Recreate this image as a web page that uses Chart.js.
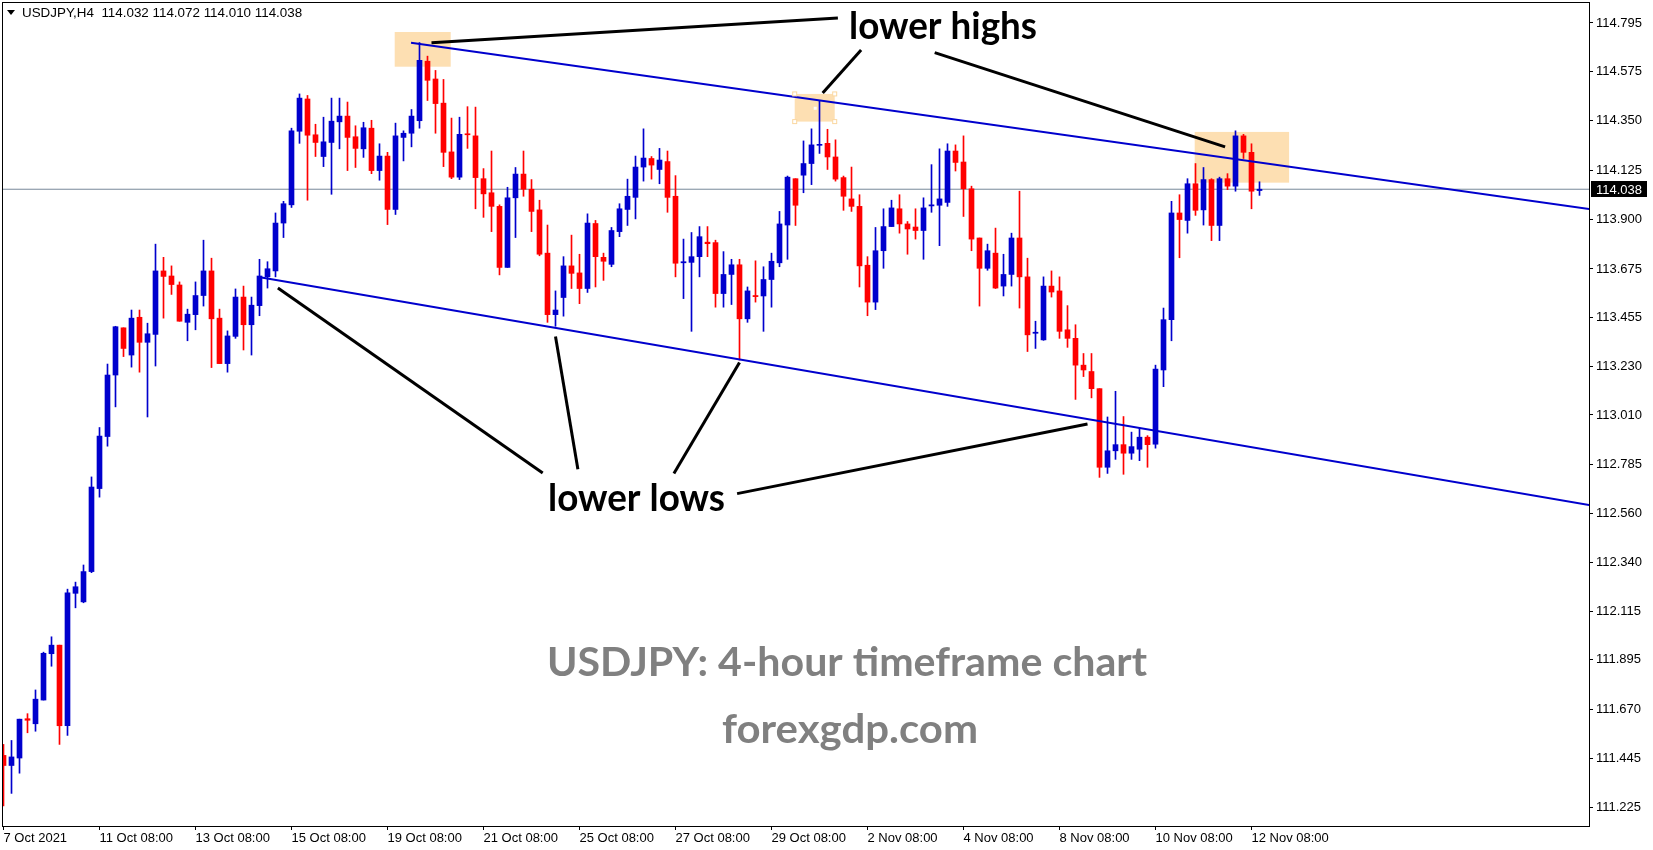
<!DOCTYPE html>
<html>
<head>
<meta charset="utf-8">
<script src="https://cdn.jsdelivr.net/npm/chart.js@4.4.1/dist/chart.umd.min.js"></script>
<style>
  html, body { margin: 0; padding: 0; background: #fff; }
  #wrap { width: 1653px; height: 850px; }
</style>
</head>
<body>
<div id="wrap"><canvas id="usdjpy" width="1653" height="850"></canvas></div>
<script>
// USDJPY H4 candles (bar 0 = first visible bar)
const opens = [111.460,111.414,111.448,111.627,111.604,111.712,111.923,111.962,111.595,112.198,
  112.159,112.297,112.675,112.912,113.192,113.407,113.283,113.455,113.341,113.377,
  113.666,113.643,113.602,113.432,113.467,113.554,113.666,113.451,113.244,113.368,
  113.547,113.421,113.508,113.639,113.666,113.884,113.967,114.302,114.449,114.286,
  114.187,114.251,114.345,114.371,114.277,114.222,114.316,114.123,114.189,113.946,
  114.274,114.293,114.350,114.621,114.540,114.430,114.208,114.093,114.290,114.281,
  114.086,114.022,113.960,113.682,113.999,114.107,114.038,113.944,113.747,113.467,
  113.545,113.689,113.657,113.586,113.882,113.728,113.696,113.845,113.946,114.001,
  114.139,114.178,114.128,114.164,114.006,113.703,113.705,113.731,113.797,113.795,
  113.563,113.650,113.694,113.448,113.554,113.552,113.627,113.703,113.875,114.086,
  114.102,114.155,114.238,114.247,114.185,114.091,113.994,113.960,113.692,113.524,
  113.758,113.868,113.949,113.880,113.866,113.850,113.962,113.965,113.978,114.212,
  114.162,114.040,113.816,113.678,113.747,113.597,113.650,113.816,113.639,113.382,
  113.352,113.597,113.575,113.398,113.359,113.237,113.208,113.130,112.772,112.847,
  112.875,112.836,112.854,112.909,112.877,113.215,113.444,113.930,113.896,114.063,
  113.944,114.082,113.873,114.086,114.052,114.281,114.206,114.032];
const highs = [111.510,111.528,111.625,111.650,111.758,111.930,112.000,111.962,112.217,112.249,
  112.327,112.728,112.953,113.242,113.414,113.407,113.488,113.488,113.428,113.788,
  113.728,113.689,113.616,113.492,113.616,113.806,113.724,113.492,113.393,113.584,
  113.597,113.547,113.719,113.708,113.930,113.983,114.316,114.472,114.465,114.334,
  114.366,114.453,114.453,114.435,114.327,114.343,114.352,114.245,114.206,114.339,
  114.304,114.401,114.706,114.644,114.579,114.538,114.362,114.366,114.414,114.412,
  114.132,114.212,113.967,114.047,114.137,114.212,114.082,113.988,113.875,113.575,
  113.731,113.829,113.742,113.926,113.896,113.747,113.864,113.972,114.084,114.189,
  114.313,114.187,114.224,114.212,114.100,113.811,113.841,113.868,113.868,113.806,
  113.754,113.719,113.719,113.593,113.712,113.685,113.747,113.937,114.098,114.086,
  114.258,114.313,114.442,114.311,114.263,114.098,114.139,114.013,113.731,113.864,
  113.949,113.988,114.013,113.891,113.949,113.999,114.150,114.222,114.245,114.240,
  114.281,114.052,113.816,113.788,113.861,113.742,113.838,114.029,113.724,113.437,
  113.639,113.666,113.639,113.508,113.421,113.290,113.290,113.130,113.001,113.118,
  113.003,112.932,112.951,112.916,113.237,113.497,113.983,114.013,114.086,114.155,
  114.137,114.086,114.093,114.109,114.304,114.288,114.245,114.072];
const lows = [111.230,111.287,111.379,111.563,111.570,111.712,111.866,111.510,111.551,112.132,
  112.155,112.292,112.636,112.868,113.047,113.276,113.228,113.205,113.001,113.233,
  113.451,113.559,113.437,113.348,113.398,113.506,113.226,113.244,113.205,113.359,
  113.306,113.283,113.462,113.588,113.639,113.818,113.955,114.247,113.988,114.187,
  114.141,114.015,114.222,114.123,114.137,114.183,114.109,114.079,113.877,113.923,
  114.167,114.231,114.316,114.442,114.293,114.141,114.086,114.082,114.224,113.949,
  113.910,113.845,113.648,113.682,113.818,114.006,113.845,113.735,113.432,113.414,
  113.460,113.586,113.517,113.568,113.593,113.623,113.685,113.822,113.873,113.903,
  114.075,114.084,114.063,113.933,113.639,113.540,113.391,113.639,113.731,113.501,
  113.501,113.513,113.260,113.432,113.524,113.391,113.501,113.685,113.719,113.873,
  114.022,114.059,114.201,114.128,114.075,113.942,113.937,113.593,113.462,113.490,
  113.678,113.868,113.838,113.742,113.811,113.719,113.933,113.781,113.960,114.121,
  113.914,113.758,113.506,113.669,113.586,113.552,113.597,113.497,113.299,113.313,
  113.350,113.547,113.359,113.318,113.081,113.185,113.088,112.726,112.744,112.808,
  112.740,112.808,112.802,112.772,112.859,113.139,113.348,113.726,113.838,113.919,
  113.875,113.804,113.804,114.036,114.029,114.178,113.949,114.010];
const closes = [111.414,111.453,111.625,111.620,111.716,111.925,111.962,111.595,112.200,112.228,
  112.297,112.682,112.914,113.192,113.412,113.313,113.451,113.341,113.380,113.666,
  113.641,113.604,113.437,113.469,113.554,113.666,113.448,113.244,113.370,113.547,
  113.421,113.510,113.643,113.676,113.884,113.972,114.304,114.453,114.284,114.251,
  114.254,114.348,114.371,114.274,114.224,114.318,114.123,114.189,113.946,114.281,
  114.293,114.371,114.625,114.534,114.428,114.206,114.093,114.288,114.286,114.091,
  114.017,113.960,113.682,113.999,114.107,114.038,113.937,113.742,113.467,113.488,
  113.689,113.655,113.586,113.884,113.731,113.710,113.850,113.949,114.006,114.139,
  114.180,114.148,114.171,114.001,113.701,113.708,113.731,113.822,113.790,113.563,
  113.650,113.694,113.448,113.575,113.549,113.627,113.710,113.880,114.093,113.965,
  114.155,114.240,114.242,114.185,114.084,114.006,113.960,113.689,113.524,113.758,
  113.868,113.953,113.880,113.857,113.850,113.953,113.967,113.994,114.212,114.160,
  114.040,113.811,113.678,113.758,113.588,113.650,113.816,113.639,113.375,113.387,
  113.597,113.570,113.391,113.359,113.237,113.215,113.130,112.772,112.847,112.875,
  112.836,112.866,112.909,112.875,113.219,113.444,113.930,113.900,114.063,113.942,
  114.082,113.873,114.086,114.052,114.281,114.206,114.029,114.038];

const xTickBars = [0, 12, 24, 36, 48, 60, 72, 84, 96, 108, 120, 132, 144, 156];
const xTickText = ['7 Oct 2021', '11 Oct 08:00', '13 Oct 08:00', '15 Oct 08:00', '19 Oct 08:00',
  '21 Oct 08:00', '25 Oct 08:00', '27 Oct 08:00', '29 Oct 08:00', '2 Nov 08:00',
  '4 Nov 08:00', '8 Nov 08:00', '10 Nov 08:00', '12 Nov 08:00'];
const yTicks = [114.795, 114.575, 114.350, 114.125, 113.900, 113.675, 113.455, 113.230, 113.010,
  112.785, 112.560, 112.340, 112.115, 111.895, 111.670, 111.445, 111.225];
const bidPrice = 114.038;

// channel lines and callout lines, as [bar, price] end points
const upperChannel = [[50.94, 114.705], [198.2, 113.948]];
const lowerChannel = [[32.06, 113.637], [198.2, 112.600]];
const callouts = [
  [[53.5, 114.705], [104.3, 114.818]],
  [[102.4, 114.476], [107.2, 114.672]],
  [[116.4, 114.660], [152.7, 114.231]],
  [[34.3, 113.588], [67.4, 112.746]],
  [[69.0, 113.368], [71.8, 112.763]],
  [[92.0, 113.249], [83.8, 112.744]],
  [[91.7, 112.652], [135.5, 112.969]]
];
// highlighted zones: bar from, bar to, price top, price bottom
const zones = [[48.9, 55.9, 114.754, 114.596], [98.9, 103.9, 114.472, 114.346], [148.9, 160.7, 114.299, 114.068]];

const xMin = -0.1875, xMax = 198.1875;
const yMin = 111.1385, yMax = 114.8906;

const bars = opens.map((_, i) => i);
const candleColors = bars.map(i => closes[i] >= opens[i] ? '#0000cd' : '#ff0000');
const toPts = seg => seg.map(p => ({ x: p[0], y: p[1] }));

function fitText(ctx, s, x, base, w, size, color) {
  ctx.save();
  ctx.font = 'bold ' + size + 'px Lato';
  const m = ctx.measureText(s).width;
  ctx.translate(x, base);
  ctx.scale(w / m, 1);
  ctx.fillStyle = color;
  ctx.textBaseline = 'alphabetic';
  ctx.fillText(s, 0, 0);
  ctx.restore();
}

const overlay = {
  id: 'overlay',
  beforeDatasetsDraw(chart) {
    const { ctx, scales: { x, y } } = chart;
    ctx.save();
    ctx.fillStyle = 'rgb(253,223,178)';
    zones.forEach(z => {
      const x1 = x.getPixelForValue(z[0]), x2 = x.getPixelForValue(z[1]);
      const y1 = y.getPixelForValue(z[2]), y2 = y.getPixelForValue(z[3]);
      ctx.fillRect(x1, y1, x2 - x1, y2 - y1);
    });
    ctx.restore();
  },
  afterDraw(chart) {
    const { ctx, chartArea: ca, scales: { x, y } } = chart;
    ctx.save();
    // selection handles on the middle zone
    const z = zones[1];
    const hx = [x.getPixelForValue(z[0]), x.getPixelForValue(z[1])];
    const hy = [y.getPixelForValue(z[2]), y.getPixelForValue(z[3])];
    ctx.fillStyle = '#fff';
    ctx.strokeStyle = 'rgb(250,215,160)';
    ctx.lineWidth = 1;
    hx.forEach(px => hy.forEach(py => {
      ctx.fillRect(px - 2, py - 2, 4, 4);
      ctx.strokeRect(px - 2, py - 2, 4, 4);
    }));
    ctx.fillRect((hx[0] + hx[1]) / 2 - 1, (hy[0] + hy[1]) / 2 - 1, 3, 3);

    // frame
    ctx.strokeStyle = '#000';
    ctx.strokeRect(ca.left + 0.5, ca.top + 0.5, ca.right - ca.left, ca.bottom - ca.top);

    // header
    ctx.fillStyle = '#000';
    ctx.beginPath();
    ctx.moveTo(7, 10); ctx.lineTo(15, 10); ctx.lineTo(11, 15); ctx.closePath();
    ctx.fill();
    ctx.font = '13.4px "Liberation Sans"';
    ctx.textBaseline = 'alphabetic';
    ctx.fillText('USDJPY,H4  ' + [opens[157], highs[157], lows[157], closes[157]].map(v => v.toFixed(3)).join(' '), 22, 17);

    // bid price label
    const py = Math.round(y.getPixelForValue(bidPrice));
    ctx.fillStyle = '#000';
    ctx.fillRect(ca.right + 2, py - 8, 56, 16);
    ctx.fillStyle = '#fff';
    ctx.font = '13px "Liberation Sans"';
    ctx.textBaseline = 'middle';
    ctx.fillText(bidPrice.toFixed(3), ca.right + 7, py + 1);

    // annotations
    fitText(ctx, 'lower highs', 849, 39, 188, 38, '#000');
    fitText(ctx, 'lower lows', 548, 511, 177, 38, '#000');
    fitText(ctx, 'USDJPY: 4-hour timeframe chart', 547, 676, 600, 40.5, '#808080');
    fitText(ctx, 'forexgdp.com', 722, 743, 256, 40.5, '#808080');
    ctx.restore();
  }
};

const lineDs = (pts, color, width, order) => ({
  type: 'line', data: toPts(pts), borderColor: color, borderWidth: width,
  pointRadius: 0, tension: 0, fill: false, order: order
});

new Chart(document.getElementById('usdjpy'), {
  type: 'bar',
  data: {
    datasets: [
      lineDs([[xMin, bidPrice], [xMax, bidPrice]], '#778899', 1, 10),
      {
        label: 'wick', data: bars.map(i => ({ x: i, y: [lows[i], highs[i]] })),
        backgroundColor: candleColors, barThickness: 1, grouped: false, order: 9
      },
      {
        label: 'body', data: bars.map(i => ({ x: i, y: [opens[i], closes[i]] })),
        backgroundColor: candleColors, barThickness: 5, minBarLength: 1, grouped: false, order: 8
      },
      lineDs(upperChannel, '#0000cd', 2, 3),
      lineDs(lowerChannel, '#0000cd', 2, 3),
      ...callouts.map(c => lineDs(c, '#000', 3, 2))
    ]
  },
  options: {
    responsive: false,
    animation: false,
    events: [],
    layout: { padding: { left: 2, top: 2, right: 0, bottom: 0 } },
    plugins: { legend: { display: false }, tooltip: { enabled: false } },
    scales: {
      x: {
        type: 'linear', min: xMin, max: xMax, offset: false,
        grid: { display: true, drawOnChartArea: false, drawTicks: true, tickLength: 4, color: '#000', offset: false },
        border: { display: false },
        afterBuildTicks: s => { s.ticks = xTickBars.map(v => ({ value: v })); },
        afterFit: s => { s.height = 24; s.paddingLeft = 0; s.paddingRight = 0; },
        ticks: {
          autoSkip: false, maxRotation: 0, minRotation: 0, align: 'start', padding: 1,
          color: '#000', font: { family: 'Liberation Sans', size: 13 },
          callback: (v, i) => xTickText[i]
        }
      },
      y: {
        type: 'linear', position: 'right', min: yMin, max: yMax,
        grid: { display: true, drawOnChartArea: false, drawTicks: true, tickLength: 4, color: '#000' },
        border: { display: false },
        afterBuildTicks: s => { s.ticks = yTicks.map(v => ({ value: v })); },
        afterFit: s => { s.width = 64; s.paddingTop = 0; s.paddingBottom = 0; },
        ticks: {
          padding: 3, color: '#000', font: { family: 'Liberation Sans', size: 13 },
          callback: v => v.toFixed(3)
        }
      }
    }
  },
  plugins: [overlay]
});
</script>
</body>
</html>
